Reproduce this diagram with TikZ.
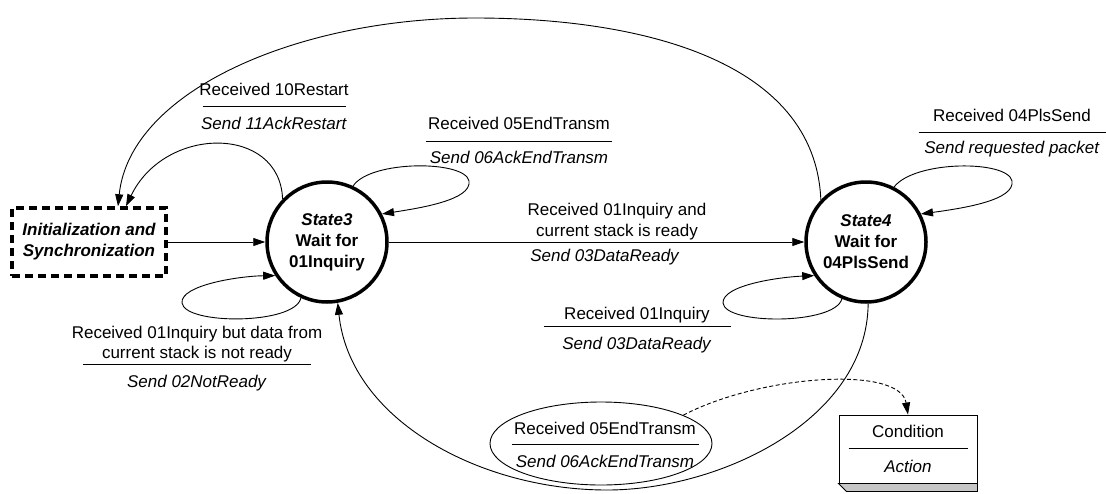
\documentclass[tikz,border=0pt]{standalone}
\usepackage{fontspec}
\setmainfont{Liberation Sans}
\usetikzlibrary{arrows.meta,shapes.geometric,calc}
\newcommand\cact[5]{#2\\[#1]\rule{#3}{0.8pt}\\[#4]\textit{#5}}
\begin{document}
\begin{tikzpicture}[x=1pt,y=-1pt,
  every node/.style={font=\fontsize{17}{20.5}\selectfont, inner sep=0pt},
  lbl/.style={align=center, anchor=north},
  state/.style={circle, draw, line width=3.5pt, minimum size=120pt, align=center,
    font=\fontsize{17}{21}\selectfont\bfseries},
  arr/.style={line width=0.9pt, -{Triangle[length=12pt,width=8pt]}},
  dasharr/.style={line width=0.9pt, dash pattern=on 4pt off 2.5pt, -{Triangle[length=12pt,width=8pt]}}]
\useasboundingbox (0,0) rectangle (1106,493);

% states
\node[draw, line width=3.5pt, dash pattern=on 8pt off 5pt, minimum width=154pt, minimum height=68pt,
  align=center, font=\fontsize{17}{21}\selectfont\bfseries\itshape] (init) at (89,242)
  {Initialization and\\Synchronization};
\node[state] (s3) at (327,242) {\textit{State3}\\Wait for\\01Inquiry};
\node[state] (s4) at (866,242) {\textit{State4}\\Wait for\\04PlsSend};

% straight transitions
\draw[arr] (init) -- (s3);
\draw[arr] (s3) -- (s4);

% self loops
\draw[arr] (s3.65) .. controls (370,160) and (465,160) .. (469,181) .. controls (472,200) and (420,208) .. (s3.27);
\draw[arr] (s3.245) .. controls (295,325) and (185,325) .. (182,303) .. controls (180,285) and (240,276) .. (s3.213);
\draw[arr] (s4.63) .. controls (915,160) and (1008,160) .. (1012,181) .. controls (1015,200) and (965,208) .. (s4.27);
\draw[arr] (s4.247) .. controls (835,325) and (725,325) .. (723,303) .. controls (722,285) and (780,277) .. (s4.213);

% arcs back to init
\draw[arr] (s3.136) .. controls (280,125) and (165,125) .. ([xshift=37pt]init.north);
\draw[arr] (s4.137) .. controls (815,60) and (640,18) .. (475,18) .. controls (300,18) and (130,90) .. ([xshift=29pt]init.north);

% bottom arc State4 -> State3
\draw[arr] (s4.-88) .. controls (867,420) and (720,490) .. (607,490) .. controls (480,490) and (350,420) .. (s3.-80);

% labels
\node[lbl] (l10) at (274,82.8) {\cact{-9.5pt}{Received 10Restart}{143pt}{2.5pt}{Send 11AckRestart}};
\node[lbl] (l05a) at (519,116.8) {\cact{-8.5pt}{Received 05EndTransm}{186pt}{1.5pt}{Send 06AckEndTransm}};
\node[lbl] (l04) at (1012,108.8) {\cact{-9.5pt}{Received 04PlsSend}{187pt}{0.5pt}{Send requested packet}};
\node[lbl] (lmainA) at (617,202.8) {Received 01Inquiry and\\[0.5pt]current stack is ready};
\node[lbl] (lmainB) at (605,248.8) {\textit{Send 03DataReady}};
\node[lbl] (l02) at (197,325.8) {\cact{-14.5pt}{Received 01Inquiry but data from\\[-0.5pt]current stack is not ready}{228pt}{2.5pt}{Send 02NotReady}};
\node[lbl] (l01) at (637,306.8) {\cact{-13.5pt}{Received 01Inquiry}{187pt}{2.5pt}{Send 03DataReady}};

% legend ellipse
\node[draw, ellipse, fill=white, minimum width=222pt, minimum height=83pt, line width=0.9pt] (ell) at (601,443.5) {};
\node[lbl] (l05b) at (605,421.8) {\cact{-10.5pt}{Received 05EndTransm}{187pt}{2.5pt}{Send 06AckEndTransm}};

% condition / action box
\node[draw, line width=0.9pt, fill=white, minimum width=138pt, minimum height=68pt, align=center] (cond) at (908,449)
  {\cact{-9.5pt}{Condition}{119pt}{3.5pt}{Action}};
\draw[line width=0.9pt, fill=gray!45] (cond.south west) -- (cond.south east) -- ([yshift=-8pt]cond.south east)
  -- ([xshift=8pt,yshift=-8pt]cond.south west) -- cycle;

\draw[dasharr] (ell.19) .. controls (760,375) and (900,365) .. (cond.north);
\end{tikzpicture}
\end{document}
